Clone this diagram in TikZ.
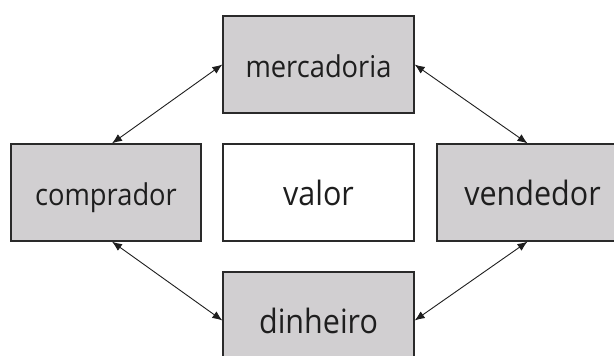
\documentclass[tikz,border=0pt]{standalone}
\usepackage{fontspec}
\setmainfont{Open Sans}[FakeStretch=0.91]
\usetikzlibrary{arrows.meta}
\definecolor{boxgray}{HTML}{D1CFD1}
\definecolor{edge}{HTML}{2A2A2A}
\definecolor{ink}{HTML}{1E1E1E}
\begin{document}
\begin{tikzpicture}[x=1pt,y=-1pt,
  box/.style={draw=edge, line width=1.3pt, minimum width=191pt, minimum height=97pt, inner sep=0pt, text=ink, text height=25pt, text depth=0pt},
  graybox/.style={box, fill=boxgray},
  smalltext/.style={font=\fontsize{30}{32}\selectfont},
  largetext/.style={font=\fontsize{33.5}{35}\selectfont},
  link/.style={{Latex[length=10pt,width=8pt]}-{Latex[length=10pt,width=8pt]}, line width=0.9pt, draw=ink}]
\useasboundingbox (0,0) rectangle (614,356);
\clip (0,0) rectangle (614,356);
\node[graybox, smalltext] (merc) at (318.5,64.5) {mercadoria};
\node[graybox, smalltext, minimum width=190pt] (comp) at (106,192.5) {comprador};
\node[box, largetext] (valor) at (318.5,192.5) {valor};
\node[graybox, largetext] (vend) at (532.5,192.5) {vendedor};
\node[graybox, largetext] (dinh) at (318.5,320.5) {dinheiro};
\draw[link] ([xshift=6pt]comp.north) -- (merc.west);
\draw[link] (merc.east) -- ([xshift=-5pt]vend.north);
\draw[link] ([xshift=6pt]comp.south) -- (dinh.west);
\draw[link] (dinh.east) -- ([xshift=-5pt]vend.south);
\end{tikzpicture}
\end{document}
